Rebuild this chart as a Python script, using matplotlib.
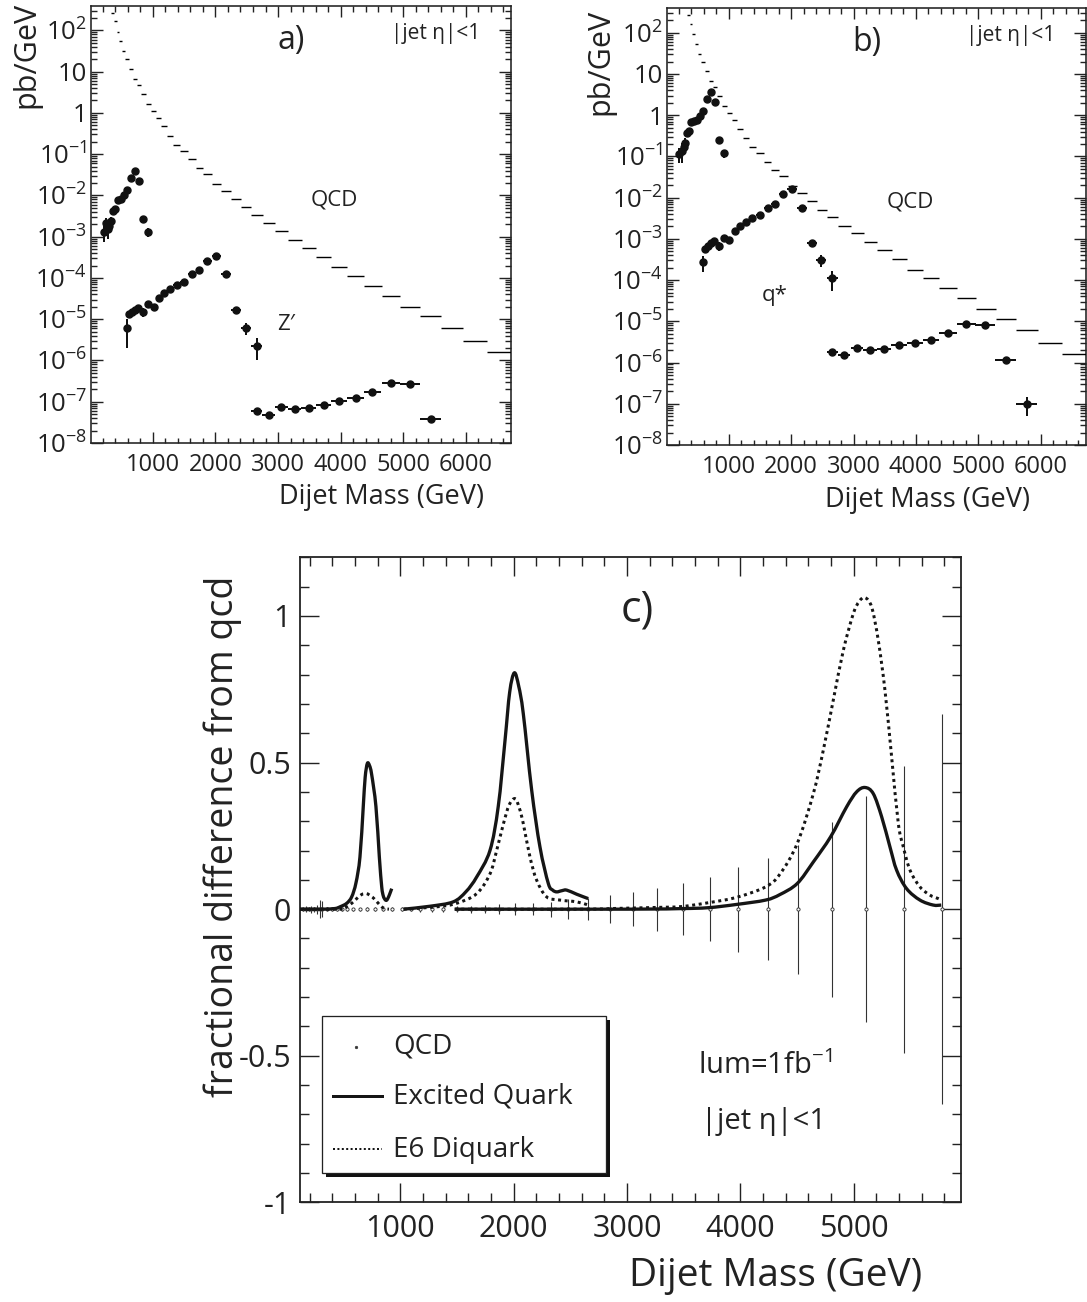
import numpy as np
import matplotlib
matplotlib.use("Agg")
import matplotlib.pyplot as plt
from matplotlib.patches import Rectangle, PathPatch
from matplotlib.path import Path
from matplotlib.lines import Line2D
from matplotlib.ticker import MultipleLocator, FixedLocator, FixedFormatter, NullFormatter

plt.rcParams['font.family'] = ['Open Sans', 'DejaVu Sans']
plt.rcParams['mathtext.fontset'] = 'custom'
plt.rcParams['mathtext.rm'] = 'Open Sans'
plt.rcParams['mathtext.it'] = 'Open Sans:italic'
plt.rcParams['mathtext.bf'] = 'Open Sans:bold'
plt.rcParams['mathtext.default'] = 'regular'

# ---------------- QCD dijet mass spectrum (pb/GeV) in variable-width bins -------------
qcd_edges = [330, 371, 418, 465, 509, 559, 617, 677, 741, 810, 887, 969, 1052, 1135,
             1226, 1328, 1438, 1559, 1683, 1807, 1942, 2091, 2249, 2406, 2571, 2754,
             2952, 3160, 3377, 3610, 3855, 4110, 4375, 4657, 4957, 5275, 5607, 5950,
             6340, 6725]
qcd_xsec = [263, 165, 91, 54, 31, 20, 11.8, 6.8, 4.8, 2.85, 1.67, 1.1, 0.75, 0.47,
            0.28, 0.169, 0.12, 0.075, 0.047, 0.033, 0.0193, 0.0128, 0.0081, 0.0051,
            0.0033, 0.0021, 0.0014, 8.3e-4, 5.4e-4, 3.3e-4, 1.8e-4, 1.13e-4, 6.3e-5,
            3.65e-5, 1.98e-5, 1.17e-5, 6.1e-6, 2.9e-6, 1.63e-6]

# ---------------- Z' signals (panel a) ----------------
zp07_mass = [210, 245, 275, 300, 325, 355, 394, 443, 487, 531, 587, 647, 708, 774, 846, 928]
zp07_xsec = [1.3e-3, 2.2e-3, 1.5e-3, 1.8e-3, 2.4e-3, 4.1e-3, 4.7e-3, 7.6e-3, 8.2e-3,
             1.05e-2, 1.38e-2, 2.63e-2, 3.98e-2, 2.2e-2, 2.7e-3, 1.3e-3]
zp07_err = [5.5e-4, 7e-4, 6e-4, 6e-4, 6e-4, 5e-4, 5e-4, 6e-4, 6e-4, 7e-4, 9e-4,
            1.5e-3, 2.2e-3, 1.5e-3, 4e-4, 3e-4]

zp2_mass = [587, 625, 665, 708, 760, 846, 928, 1011, 1094, 1176, 1276, 1380, 1496,
            1623, 1744, 1871, 2014, 2169, 2329, 2483, 2659]
zp2_xsec = [6.0e-6, 1.32e-5, 1.51e-5, 1.69e-5, 1.82e-5, 1.51e-5, 2.31e-5, 2.0e-5,
            3.22e-5, 4.41e-5, 5.32e-5, 6.64e-5, 8.0e-5, 1.22e-4, 1.53e-4, 2.57e-4,
            3.39e-4, 1.22e-4, 1.69e-5, 6.2e-6, 2.3e-6]
zp2_err = [4e-6, 2.5e-6, 2.5e-6, 2.5e-6, 2.5e-6, 3.5e-6, 2.5e-6, 2.5e-6, 2.5e-6,
           2.5e-6, 2.5e-6, 3e-6, 4e-6, 6e-6, 7e-6, 1.2e-5, 1.5e-5, 6e-6, 2e-6, 2e-6, 1.3e-6]

zp5_mass = [2659, 2850, 3055, 3265, 3490, 3730, 3980, 4240, 4510, 4805, 5110, 5440]
zp5_xsec = [5.9e-8, 4.9e-8, 7.5e-8, 6.7e-8, 7.1e-8, 8.5e-8, 1.03e-7, 1.2e-7, 1.7e-7,
            2.87e-7, 2.7e-7, 3.8e-8]
zp5_err = [3e-9, 3e-9, 4e-9, 3e-9, 3e-9, 4e-9, 5e-9, 6e-9, 8e-9, 1.2e-8, 1.2e-8, 3e-9]

# ---------------- excited quark signals (panel b) ----------------
qs07_mass = zp07_mass
qs07_xsec = [0.114, 0.138, 0.166, 0.215, 0.363, 0.42, 0.67, 0.72, 0.76, 0.96, 1.29,
             2.43, 3.6, 2.05, 0.25, 0.119]
qs07_err = [0.045, 0.07, 0.055, 0.06, 0.05, 0.04, 0.045, 0.04, 0.04, 0.05, 0.07,
            0.12, 0.2, 0.15, 0.04, 0.025]

qs2_mass = zp2_mass
qs2_xsec = [2.74e-4, 5.6e-4, 6.7e-4, 8.1e-4, 8.9e-4, 6.7e-4, 1.03e-3, 9.4e-4, 1.55e-3,
            2.02e-3, 2.52e-3, 3.16e-3, 3.81e-3, 5.74e-3, 7.18e-3, 1.21e-2, 1.66e-2,
            5.74e-3, 7.8e-4, 3.06e-4, 1.1e-4]
qs2_err = [1.2e-4, 1e-4, 1e-4, 1e-4, 1e-4, 1.6e-4, 1e-4, 1e-4, 1e-4, 1e-4, 1.2e-4,
           1.4e-4, 1.6e-4, 2.5e-4, 3e-4, 5e-4, 7e-4, 3e-4, 6e-5, 1e-4, 5.5e-5]

qs5_mass = [2659, 2850, 3055, 3265, 3490, 3730, 3980, 4240, 4510, 4805, 5110, 5440, 5775]
qs5_xsec = [1.8e-6, 1.55e-6, 2.25e-6, 2.05e-6, 2.17e-6, 2.62e-6, 2.98e-6, 3.46e-6,
            5.2e-6, 8.65e-6, 8.3e-6, 1.13e-6, 1.0e-7]
qs5_err = [6e-8, 6e-8, 7e-8, 7e-8, 7e-8, 9e-8, 1e-7, 1.2e-7, 2e-7, 3e-7, 3e-7, 8e-8, 5e-8]

# ---------------- fractional difference from QCD (panel c) ----------------
frac_qcd_mass = [140, 165, 190, 215, 240, 265, 290, 310, 349, 394, 443, 487, 531, 587,
                 647, 708, 774, 846, 928, 1011, 1094, 1176, 1276, 1380, 1496, 1623, 1744,
                 1871, 2014, 2169, 2329, 2483, 2659, 2850, 3055, 3265, 3490, 3730, 3980,
                 4240, 4510, 4805, 5110, 5440, 5775]
frac_qcd_err = [0.006, 0.01, 0.007, 0.012, 0.009, 0.015, 0.03, 0.028, 0.006, 0.006,
                0.005, 0.005, 0.005, 0.005, 0.005, 0.006, 0.006, 0.006, 0.007, 0.007,
                0.007, 0.008, 0.008, 0.009, 0.01, 0.012, 0.014, 0.017, 0.02, 0.021,
                0.025, 0.033, 0.037, 0.048, 0.057, 0.073, 0.088, 0.11, 0.145, 0.173,
                0.22, 0.298, 0.385, 0.489, 0.666]

exq07_mass = [115, 300, 420, 468, 527, 571, 609, 644, 673, 690, 709, 728, 747, 785, 815,
              836, 850, 865, 877, 889, 905, 924]
exq07_frac = [0, 0, 0.002, 0.008, 0.02, 0.042, 0.09, 0.178, 0.349, 0.45, 0.497, 0.49,
              0.46, 0.35, 0.178, 0.076, 0.045, 0.033, 0.03, 0.036, 0.05, 0.07]
e6_07_mass = [115, 470, 512, 571, 615, 659, 703, 739, 768, 806, 836, 865, 900]
e6_07_frac = [0, 0, 0.005, 0.02, 0.036, 0.05, 0.053, 0.045, 0.036, 0.02, 0.008, 0.002, 0]

exq2_mass = [1030, 1262, 1467, 1580, 1674, 1791, 1864, 1924, 1965, 2006, 2045, 2085,
             2159, 2232, 2306, 2345, 2380, 2425, 2468, 2556, 2658]
exq2_frac = [0, 0.01, 0.025, 0.06, 0.11, 0.2, 0.35, 0.576, 0.74, 0.806, 0.76, 0.667,
             0.406, 0.2125, 0.0875, 0.065, 0.059, 0.063, 0.065, 0.051, 0.036]
e6_2_mass = [1030, 1321, 1497, 1674, 1791, 1850, 1909, 1960, 2012, 2050, 2085, 2144,
             2203, 2291, 2409, 2556, 2658]
e6_2_frac = [0, 0.008, 0.02, 0.053, 0.12, 0.2, 0.29, 0.355, 0.377, 0.345, 0.292, 0.178,
             0.099, 0.042, 0.031, 0.025, 0.014]

exq5_mass = [1480, 3000, 3482, 3717, 3964, 4223, 4350, 4502, 4644, 4797, 4938, 5026,
             5100, 5173, 5247, 5320, 5379, 5467, 5585, 5702, 5773]
exq5_frac = [0, 0, 0.002, 0.005, 0.016, 0.031, 0.05, 0.0875, 0.161, 0.247, 0.349, 0.4,
             0.415, 0.394, 0.315, 0.2125, 0.133, 0.07, 0.031, 0.014, 0.014]
e6_5_mass = [1480, 2600, 2850, 3055, 3265, 3482, 3717, 3964, 4223, 4350, 4502, 4644,
             4732, 4820, 4909, 4997, 5050, 5100, 5159, 5217, 5276, 5335, 5394, 5438,
             5497, 5585, 5673, 5747, 5773]
e6_5_frac = [0, 0, 0.002, 0.004, 0.006, 0.009, 0.022, 0.04, 0.076, 0.12, 0.224, 0.394,
             0.542, 0.7125, 0.883, 1.008, 1.05, 1.0625, 1.03, 0.917, 0.747, 0.519, 0.292,
             0.2125, 0.133, 0.076, 0.048, 0.036, 0.031]

log_tick_labels = ['$10^{-8}$', '$10^{-7}$', '$10^{-6}$', '$10^{-5}$', '$10^{-4}$',
                   '$10^{-3}$', '$10^{-2}$', '$10^{-1}$', '1', '10', '$10^{2}$']

# ---------------- figure layout (pixel based) ----------------
W, H = 1087, 1302
fig = plt.figure(figsize=(W / 100, H / 100), dpi=100)
INK = '#222222'


def pt(px):
    return px * 72.0 / 100.0


def fx(x):
    return x / W


def fy(y):
    return 1 - y / H


def box(l, t, r, b):
    return [l / W, 1 - b / H, (r - l) / W, (b - t) / H]


ax_a = fig.add_axes(box(91, 5.6, 511, 443))
ax_b = fig.add_axes(box(667, 8, 1086, 445))
ax_c = fig.add_axes(box(300, 557.3, 961, 1202.4))

edges = np.asarray(qcd_edges, float)
centers = 0.5 * (edges[1:] + edges[:-1])
half = 0.5 * np.diff(edges)


def half_width(mass):
    idx = np.clip(np.searchsorted(edges, mass) - 1, 0, len(half) - 1)
    return half[idx]


def spectrum_panel(ax, signals, tag, sig_label, sig_xy, qcd_xy):
    ax.errorbar(centers, qcd_xsec, xerr=half, fmt='none', ecolor='black',
                elinewidth=pt(1.4), capsize=0, zorder=3)
    for m, v, e in signals:
        m = np.asarray(m, float)
        ax.errorbar(m, v, yerr=e, xerr=half_width(m), fmt='o', ms=pt(7.0),
                    mfc='#111111', mec='#111111', ecolor='#111111',
                    elinewidth=pt(2.0), capsize=0, zorder=4)
    ax.set_yscale('log')
    ax.set_ylim(1e-8, 10 ** 2.6)
    ax.set_xlim(10, 6725)
    ax.xaxis.set_major_locator(FixedLocator([1000, 2000, 3000, 4000, 5000, 6000]))
    ax.xaxis.set_minor_locator(MultipleLocator(200))
    ax.yaxis.set_major_locator(FixedLocator([10.0 ** k for k in range(-8, 3)]))
    ax.yaxis.set_major_formatter(FixedFormatter(log_tick_labels))
    minors = [s * 10.0 ** k for k in range(-8, 3) for s in range(2, 10)]
    ax.yaxis.set_minor_locator(FixedLocator(minors))
    ax.yaxis.set_minor_formatter(NullFormatter())
    ax.tick_params(axis='both', which='both', direction='in', top=True, right=True,
                   width=pt(1.4), colors=INK, labelcolor=INK)
    ax.tick_params(axis='x', which='major', length=pt(11), pad=pt(10), labelsize=17)
    ax.tick_params(axis='x', which='minor', length=pt(5.5))
    ax.tick_params(axis='y', which='major', length=pt(12), pad=pt(4), labelsize=18.5)
    ax.tick_params(axis='y', which='minor', length=pt(6))
    for s in ax.spines.values():
        s.set_linewidth(pt(1.6))
        s.set_color(INK)
    ax.text(0.476, 0.921, tag, transform=ax.transAxes, ha='center', va='center',
            fontsize=23, color=INK)
    ax.text(0.714, 0.937, '|jet η|<1', transform=ax.transAxes, ha='left', va='center',
            fontsize=15, color=INK)
    ax.text(qcd_xy[0], qcd_xy[1], 'QCD', transform=ax.transAxes, ha='center',
            va='center', fontsize=16, color=INK)
    ax.text(sig_xy[0], sig_xy[1], sig_label, transform=ax.transAxes, ha='center',
            va='center', fontsize=16, color=INK)


spectrum_panel(ax_a,
               [(zp07_mass, zp07_xsec, zp07_err), (zp2_mass, zp2_xsec, zp2_err),
                (zp5_mass, zp5_xsec, zp5_err)],
               'a)', 'Z′', (0.464, 0.27), (0.579, 0.555))
spectrum_panel(ax_b,
               [(qs07_mass, qs07_xsec, qs07_err), (qs2_mass, qs2_xsec, qs2_err),
                (qs5_mass, qs5_xsec, qs5_err)],
               'b)', 'q*', (0.258, 0.343), (0.58, 0.556))

fig.text(fx(26), fy(2), 'pb/GeV', rotation=90, ha='center', va='top', fontsize=22,
         color=INK)
fig.text(fx(484), fy(497), 'Dijet Mass (GeV)', ha='right', va='center', fontsize=19.5,
         color=INK)
fig.text(fx(600), fy(9), 'pb/GeV', rotation=90, ha='center', va='top', fontsize=22,
         color=INK)
fig.text(fx(1030), fy(500), 'Dijet Mass (GeV)', ha='right', va='center', fontsize=19.5,
         color=INK)


# ---------------- panel c ----------------
def smooth_curve(ax, xs, ys, **style):
    """Draw a smooth (Catmull-Rom) curve through the given points."""
    p = np.column_stack([np.asarray(xs, float), np.asarray(ys, float)])
    ext = np.vstack([p[0], p, p[-1]])
    verts = [p[0]]
    codes = [Path.MOVETO]
    for i in range(1, len(ext) - 2):
        p0, p1, p2, p3 = ext[i - 1], ext[i], ext[i + 1], ext[i + 2]
        verts += [p1 + (p2 - p0) / 6.0, p2 - (p3 - p1) / 6.0, p2]
        codes += [Path.CURVE4] * 3
    ax.add_patch(PathPatch(Path(verts, codes), facecolor='none', **style))


axc = ax_c
qm = np.asarray(frac_qcd_mass, float)
axc.errorbar(qm, np.zeros_like(qm), yerr=frac_qcd_err, fmt='o', ms=pt(3.2),
             mfc='white', mec='#333333', mew=pt(0.9), ecolor='#333333',
             elinewidth=pt(1.1), capsize=0, zorder=3)
dot_style = dict(edgecolor='#151515', lw=pt(3.0), linestyle=(0, (1.0, 1.2)),
                 capstyle='butt', zorder=4)
solid_style = dict(edgecolor='#151515', lw=pt(3.3), joinstyle='round',
                   capstyle='butt', zorder=5)
for m, v in [(e6_07_mass, e6_07_frac), (e6_2_mass, e6_2_frac), (e6_5_mass, e6_5_frac)]:
    smooth_curve(axc, m, v, **dot_style)
for m, v in [(exq07_mass, exq07_frac), (exq2_mass, exq2_frac), (exq5_mass, exq5_frac)]:
    smooth_curve(axc, m, v, **solid_style)

axc.set_xlim(115, 5947)
axc.set_ylim(-1, 1.2)
axc.xaxis.set_major_locator(FixedLocator([1000, 2000, 3000, 4000, 5000]))
axc.xaxis.set_minor_locator(MultipleLocator(200))
axc.yaxis.set_major_locator(FixedLocator([-1, -0.5, 0, 0.5, 1]))
axc.yaxis.set_major_formatter(FixedFormatter(['-1', '-0.5', '0', '0.5', '1']))
axc.yaxis.set_minor_locator(MultipleLocator(0.1))
axc.tick_params(axis='both', which='both', direction='in', top=True, right=True,
                width=pt(1.4), colors=INK, labelcolor=INK)
axc.tick_params(axis='both', which='major', length=pt(19), labelsize=22)
axc.tick_params(axis='x', which='major', pad=pt(12))
axc.tick_params(axis='y', which='major', pad=pt(9))
axc.tick_params(axis='both', which='minor', length=pt(9))
for s in axc.spines.values():
    s.set_linewidth(pt(1.8))
    s.set_color(INK)

axc.text(0.51, 0.918, 'c)', transform=axc.transAxes, ha='center', va='center',
         fontsize=31, color=INK)
fig.text(fx(698), fy(1066), 'lum=1fb$^{-1}$', ha='left', va='center', fontsize=21,
         color=INK)
fig.text(fx(701), fy(1122), '|jet η|<1', ha='left', va='center', fontsize=21,
         color=INK)
fig.text(fx(223), fy(576), 'fractional difference from qcd', rotation=90, ha='center',
         va='top', fontsize=27, color=INK)
fig.text(fx(922), fy(1276), 'Dijet Mass (GeV)', ha='right', va='center', fontsize=28,
         color=INK)

# legend box with drop shadow
lx0, ly0, lx1, ly1 = 321.5, 1016, 605.5, 1173
fig.add_artist(Rectangle((fx(lx0 + 4), fy(ly1 + 4)), (lx1 - lx0) / W, (ly1 - ly0) / H,
                         transform=fig.transFigure, facecolor='#111111',
                         edgecolor='none', zorder=6))
fig.add_artist(Rectangle((fx(lx0), fy(ly1)), (lx1 - lx0) / W, (ly1 - ly0) / H,
                         transform=fig.transFigure, facecolor='white',
                         edgecolor=INK, lw=pt(1.3), zorder=7))
fig.add_artist(Line2D([fx(356)], [fy(1047)], transform=fig.transFigure, marker='o',
                      ms=pt(2.6), mfc='#333333', mec='#333333', mew=pt(0.6),
                      linestyle='none', zorder=8))
fig.add_artist(Line2D([fx(332.5), fx(381.7)], [fy(1096), fy(1096)],
                      transform=fig.transFigure, color='#151515', lw=pt(3.0), zorder=8))
fig.add_artist(Line2D([fx(332.5), fx(381.7)], [fy(1149), fy(1149)],
                      transform=fig.transFigure, color='#151515', lw=pt(2.0),
                      linestyle=(0, (1.0, 1.2)), dash_capstyle='butt', zorder=8))
for y, txt in [(1047, 'QCD'), (1097, 'Excited Quark'), (1150, 'E6 Diquark')]:
    fig.text(fx(393), fy(y), txt, ha='left', va='center', fontsize=20,
             color=INK, zorder=9)

fig.savefig('out.png', dpi=100)
